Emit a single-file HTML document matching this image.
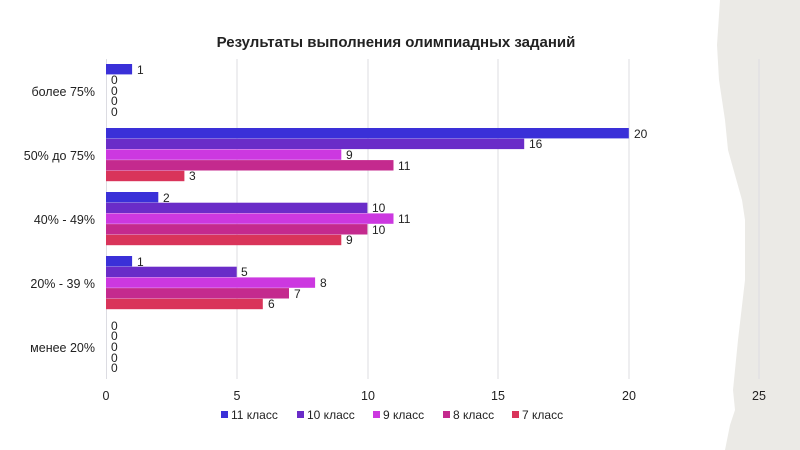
<!DOCTYPE html>
<html><head><meta charset="utf-8"><style>
html,body{margin:0;padding:0;background:#fff;}
svg{display:block;font-family:"Liberation Sans",sans-serif;}
</style></head><body>
<svg width="800" height="450" viewBox="0 0 800 450" xmlns="http://www.w3.org/2000/svg">
<polygon fill="#ebeae6" points="720,0 800,0 800,450 725,450 730,425 735,410 733,390 738,340 745,280 745,220 742,200 735,175 728,150 725,120 719,80 717,45"/>
<text x="396" y="47" text-anchor="middle" font-size="15" font-weight="bold" fill="#222">Результаты выполнения олимпиадных заданий</text>
<g stroke="#dcdce2" stroke-width="1">
<line x1="237" y1="59" x2="237" y2="379"/><line x1="368" y1="59" x2="368" y2="379"/><line x1="498" y1="59" x2="498" y2="379"/><line x1="629" y1="59" x2="629" y2="379"/><line x1="759" y1="59" x2="759" y2="379"/>
<line x1="106.5" y1="59" x2="106.5" y2="379"/>
</g>
<g font-size="12.5" fill="#222" text-anchor="end">
<text x="95" y="96">более 75%</text><text x="95" y="160">50% до 75%</text><text x="95" y="224">40% - 49%</text><text x="95" y="288">20% - 39 %</text><text x="95" y="352">менее 20%</text>
</g>
<g font-size="12.5" fill="#222" text-anchor="middle">
<text x="106" y="400">0</text><text x="237" y="400">5</text><text x="368" y="400">10</text><text x="498" y="400">15</text><text x="629" y="400">20</text><text x="759" y="400">25</text>
</g>
<g>
<rect x="106" y="64" width="26.1" height="10.4" fill="#3a30d8"/>
<rect x="106" y="128" width="522.8" height="10.4" fill="#3a30d8"/>
<rect x="106" y="138.7" width="418.2" height="10.4" fill="#6a2cc8"/>
<rect x="106" y="149.4" width="235.3" height="10.4" fill="#cc38e0"/>
<rect x="106" y="160.1" width="287.5" height="10.4" fill="#c42a8e"/>
<rect x="106" y="170.8" width="78.4" height="10.4" fill="#d9345a"/>
<rect x="106" y="192" width="52.3" height="10.4" fill="#3a30d8"/>
<rect x="106" y="202.7" width="261.4" height="10.4" fill="#6a2cc8"/>
<rect x="106" y="213.4" width="287.5" height="10.4" fill="#cc38e0"/>
<rect x="106" y="224.1" width="261.4" height="10.4" fill="#c42a8e"/>
<rect x="106" y="234.8" width="235.3" height="10.4" fill="#d9345a"/>
<rect x="106" y="256" width="26.1" height="10.4" fill="#3a30d8"/>
<rect x="106" y="266.7" width="130.7" height="10.4" fill="#6a2cc8"/>
<rect x="106" y="277.4" width="209.1" height="10.4" fill="#cc38e0"/>
<rect x="106" y="288.1" width="183" height="10.4" fill="#c42a8e"/>
<rect x="106" y="298.8" width="156.8" height="10.4" fill="#d9345a"/>
</g>
<g font-size="12" fill="#222">
<text x="137" y="74">1</text>
<text x="111" y="84">0</text><text x="111" y="95">0</text><text x="111" y="105">0</text><text x="111" y="116">0</text>
<text x="634" y="138">20</text><text x="529" y="148">16</text><text x="346" y="159">9</text><text x="398" y="170">11</text><text x="189" y="180">3</text>
<text x="163" y="202">2</text><text x="372" y="212">10</text><text x="398" y="223">11</text><text x="372" y="234">10</text><text x="346" y="244">9</text>
<text x="137" y="266">1</text><text x="241" y="276">5</text><text x="320" y="287">8</text><text x="294" y="298">7</text><text x="268" y="308">6</text>
<text x="111" y="330">0</text><text x="111" y="340">0</text><text x="111" y="351">0</text><text x="111" y="362">0</text><text x="111" y="372">0</text>
</g>
<g font-size="12" fill="#222">
<rect x="221" y="411" width="7" height="7" fill="#3a30d8"/><text x="231" y="419">11 класс</text>
<rect x="297" y="411" width="7" height="7" fill="#6a2cc8"/><text x="307" y="419">10 класс</text>
<rect x="373" y="411" width="7" height="7" fill="#cc38e0"/><text x="383" y="419">9 класс</text>
<rect x="443" y="411" width="7" height="7" fill="#c42a8e"/><text x="453" y="419">8 класс</text>
<rect x="512" y="411" width="7" height="7" fill="#d9345a"/><text x="522" y="419">7 класс</text>
</g>
</svg>
</body></html>
